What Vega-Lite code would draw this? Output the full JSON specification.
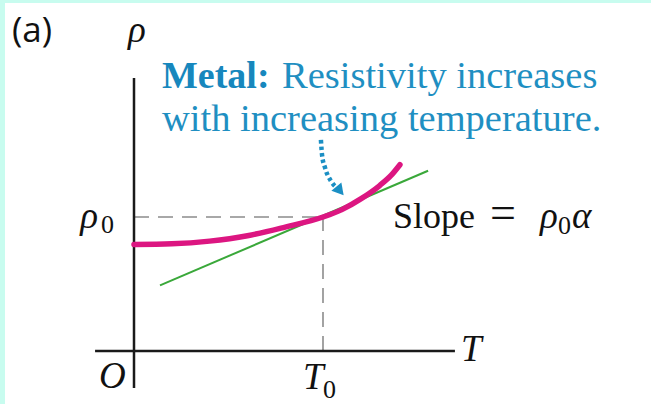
{
  "$schema": "https://vega.github.io/schema/vega-lite/v6.json",
  "width": 646,
  "height": 401,
  "autosize": {"type": "none"},
  "padding": {"left": 5, "top": 3, "right": 0, "bottom": 0},
  "background": "#c8fcef",
  "config": {"view": {"fill": "white", "stroke": null}},
  "datasets": {
    "axes": [
      {"T": 0, "T2": 0, "rho": -0.276, "rho2": 2.037},
      {"T": -0.206, "T2": 1.698, "rho": 0, "rho2": 0}
    ],
    "guides": [
      {"T": 0, "T2": 1, "rho": 1, "rho2": 1},
      {"T": 1, "T2": 1, "rho": 0, "rho2": 1}
    ],
    "curve": [
      {"T": 0.0, "rho": 0.795},
      {"T": 0.2, "rho": 0.8},
      {"T": 0.4, "rho": 0.82},
      {"T": 0.6, "rho": 0.86},
      {"T": 0.8, "rho": 0.925},
      {"T": 1.0, "rho": 1.0},
      {"T": 1.1, "rho": 1.055},
      {"T": 1.2, "rho": 1.135},
      {"T": 1.3, "rho": 1.235},
      {"T": 1.36, "rho": 1.31},
      {"T": 1.407, "rho": 1.39}
    ],
    "tangent": [
      {"T": 0.1376, "rho": 0.49},
      {"T": 1.556, "rho": 1.345}
    ],
    "arrow": [
      {"T": 0.989, "rho": 1.575},
      {"T": 0.995, "rho": 1.463},
      {"T": 1.011, "rho": 1.366},
      {"T": 1.042, "rho": 1.269},
      {"T": 1.075, "rho": 1.215}
    ],
    "arrowhead": [{"T": 1.09, "rho": 1.194}],
    "italic": [
      {"T": -0.0317, "rho": 2.306, "label": "ρ"},
      {"T": -0.285, "rho": 0.918, "label": "ρ"},
      {"T": 2.148, "rho": 0.918, "label": "ρ"},
      {"T": 2.318, "rho": 0.918, "label": "α"},
      {"T": 1.73, "rho": -0.0746, "label": "T"},
      {"T": -0.185, "rho": -0.276, "label": "O"},
      {"T": 0.894, "rho": -0.284, "label": "T"}
    ],
    "subs": [
      {"T": -0.175, "rho": 0.881, "label": "0"},
      {"T": 2.243, "rho": 0.873, "label": "0"},
      {"T": 1.0, "rho": -0.352, "label": "0"}
    ],
    "roman": [
      {"T": 1.37, "rho": 0.918, "label": "Slope"}
    ],
    "equals": [
      {"T": 1.884, "rho": 0.918, "label": "="}
    ],
    "bold": [{"T": 0.148, "rho": 1.963, "label": "Metal:"}],
    "blue": [
      {"T": 0.783, "rho": 1.963, "label": "Resistivity increases"},
      {"T": 0.148, "rho": 1.642, "label": "with increasing temperature."}
    ],
    "tag": [{"T": -0.6455, "rho": 2.306, "label": "(a)"}]
  },
  "encoding": {
    "x": {"field": "T", "type": "quantitative", "scale": {"domain": [-0.68254, 2.73545], "nice": false, "zero": false}, "axis": null},
    "y": {"field": "rho", "type": "quantitative", "scale": {"domain": [-0.39552, 2.59701], "nice": false, "zero": false}, "axis": null}
  },
  "layer": [
    {
      "data": {"name": "guides"},
      "mark": {"type": "rule", "color": "#8c8c8c", "strokeWidth": 1.6, "strokeDash": [15, 9]},
      "encoding": {"x2": {"field": "T2"}, "y2": {"field": "rho2"}}
    },
    {
      "data": {"name": "axes"},
      "mark": {"type": "rule", "color": "#1a1a1a", "strokeWidth": 2.5},
      "encoding": {"x2": {"field": "T2"}, "y2": {"field": "rho2"}}
    },
    {
      "data": {"name": "tangent"},
      "mark": {"type": "line", "color": "#3aa83a", "strokeWidth": 2},
      "encoding": {}
    },
    {
      "data": {"name": "curve"},
      "mark": {"type": "line", "color": "#dc1681", "strokeWidth": 5.5, "interpolate": "monotone", "strokeCap": "round"},
      "encoding": {}
    },
    {
      "data": {"name": "arrow"},
      "mark": {"type": "line", "color": "#1b8fc4", "strokeWidth": 4.5, "strokeDash": [3.5, 3], "interpolate": "monotone"},
      "encoding": {}
    },
    {
      "data": {"name": "arrowhead"},
      "mark": {"type": "point", "shape": "triangle-up", "filled": true, "color": "#1b8fc4", "size": 170, "angle": 140, "opacity": 1},
      "encoding": {}
    },
    {
      "data": {"name": "italic"},
      "mark": {"type": "text", "font": "Liberation Serif", "fontStyle": "italic", "fontSize": 37, "align": "left", "baseline": "alphabetic", "color": "#111"},
      "encoding": {"text": {"field": "label"}}
    },
    {
      "data": {"name": "subs"},
      "mark": {"type": "text", "font": "Liberation Serif", "fontSize": 26, "align": "left", "baseline": "alphabetic", "color": "#111"},
      "encoding": {"text": {"field": "label"}}
    },
    {
      "data": {"name": "roman"},
      "mark": {"type": "text", "font": "Liberation Serif", "fontSize": 36, "align": "left", "baseline": "alphabetic", "color": "#111"},
      "encoding": {"text": {"field": "label"}}
    },
    {
      "data": {"name": "equals"},
      "mark": {"type": "text", "font": "Liberation Serif", "fontSize": 46, "align": "left", "baseline": "alphabetic", "color": "#111"},
      "encoding": {"text": {"field": "label"}}
    },
    {
      "data": {"name": "bold"},
      "mark": {"type": "text", "font": "Liberation Serif", "fontWeight": "bold", "fontSize": 38, "align": "left", "baseline": "alphabetic", "color": "#1787bd"},
      "encoding": {"text": {"field": "label"}}
    },
    {
      "data": {"name": "blue"},
      "mark": {"type": "text", "font": "Liberation Serif", "fontSize": 38.5, "align": "left", "baseline": "alphabetic", "color": "#1f8fc2"},
      "encoding": {"text": {"field": "label"}}
    },
    {
      "data": {"name": "tag"},
      "mark": {"type": "text", "font": "Open Sans", "fontSize": 35, "align": "left", "baseline": "alphabetic", "color": "#111"},
      "encoding": {"text": {"field": "label"}}
    }
  ]
}
